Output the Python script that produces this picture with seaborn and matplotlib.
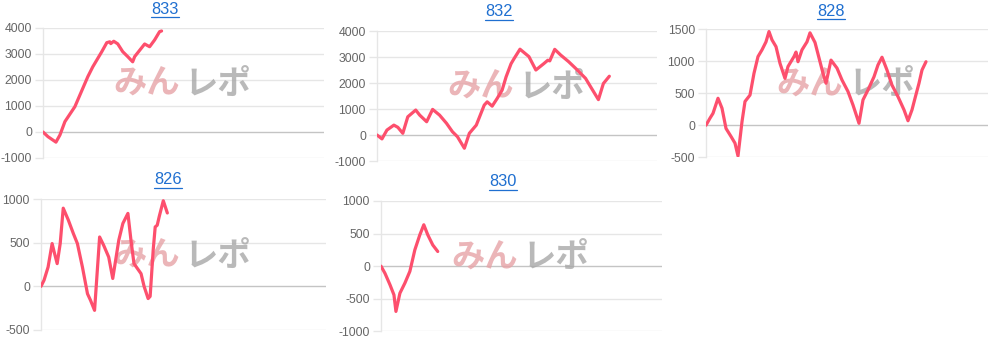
import matplotlib
matplotlib.use("Agg")
import matplotlib.pyplot as plt
import seaborn as sns
import pandas as pd
from matplotlib.lines import Line2D

# ---------------- data (x = position along the game axis, y = 差枚) -------------
titles = ["833", "832", "828", "826", "830"]

x_833 = [0, 5, 13, 17, 22, 32, 45, 50, 59, 64, 67, 68, 71, 75, 80, 85, 90, 92, 102, 107, 112, 117, 119]
y_833 = [0, -180, -390, -115, 400, 975, 2130, 2510, 3090, 3435, 3470, 3400, 3490, 3390, 3090, 2900, 2700,
         2900, 3385, 3280, 3540, 3860, 3885]

x_832 = [0, 5, 10, 17, 21, 26, 31, 39, 43, 50, 56, 63, 70, 76, 81, 88, 93, 100, 108, 111, 116, 121, 126,
         130, 135, 138, 144, 153, 160, 168, 172, 174, 179, 185, 193, 200, 210, 216, 223, 228, 234]
y_832 = [0, -150, 190, 380, 295, 65, 700, 960, 765, 510, 985, 765, 450, 125, -65, -510, 65, 380, 1150,
         1275, 1110, 1405, 1725, 2235, 2740, 2935, 3300, 3015, 2500, 2745, 2875, 2850, 3295, 3075, 2820,
         2565, 2180, 1800, 1360, 1980, 2260]

x_828 = [0, 4, 7, 12, 16, 20, 25, 29, 32, 36, 39, 44, 48, 52, 56, 60, 63, 66, 70, 74, 79, 82, 88, 90, 92,
         96, 101, 104, 109, 114, 117, 120, 125, 131, 136, 142, 147, 153, 157, 162, 168, 172, 176, 181, 186,
         192, 198, 202, 206, 209, 213, 216, 220]
y_828 = [0, 110, 185, 420, 265, -50, -175, -280, -480, 55, 370, 470, 810, 1070, 1175, 1300, 1460, 1330,
         1225, 965, 730, 915, 1070, 1140, 990, 1175, 1300, 1440, 1290, 990, 810, 655, 1015, 890, 705, 525,
         315, 30, 395, 550, 755, 940, 1060, 860, 625, 445, 240, 70, 240, 420, 655, 860, 990]

x_826 = [0, 3, 7, 11, 13, 16, 19, 22, 27, 32, 36, 41, 46, 49, 53, 58, 62, 67, 71, 77, 81, 86, 89, 92, 99,
         102, 106, 108, 111, 113, 115, 117, 121, 125]
y_826 = [0, 70, 220, 490, 395, 260, 490, 895, 760, 605, 490, 220, -85, -160, -275, 565, 470, 335, 90, 530,
         720, 835, 530, 260, 145, 0, -140, -115, 415, 680, 700, 800, 980, 840]

x_830 = [0, 4, 9, 13, 15, 19, 24, 29, 34, 39, 43, 47, 52, 57]
y_830 = [0, -110, -285, -440, -695, -415, -260, -80, 250, 480, 635, 480, 325, 225]

ticks_833 = [-1000, 0, 1000, 2000, 3000, 4000]
ticks_832 = [-1000, 0, 1000, 2000, 3000, 4000]
ticks_828 = [-500, 0, 500, 1000, 1500]
ticks_826 = [-500, 0, 500, 1000]
ticks_830 = [-1000, -500, 0, 500, 1000]

X_MAX = 282

# ---------------- style ----------------
sns.set_theme(style="white")
plt.rcParams["font.family"] = ["Liberation Sans", "DejaVu Sans"]

W, H = 998, 341
fig = plt.figure(figsize=(W / 100, H / 100), dpi=100)

# axes boxes in pixels: left, top, right, bottom
boxes = [
    (43, 28, 324, 158),
    (377, 31, 657, 161),
    (706, 29, 988, 157.3),
    (41, 199, 326, 330),
    (381, 201, 661.7, 331.3),
]
title_pos = [(165, 9), (499, 12), (831, 11), (168, 180), (503, 182)]

series = [(x_833, y_833, ticks_833), (x_832, y_832, ticks_832), (x_828, y_828, ticks_828),
          (x_826, y_826, ticks_826), (x_830, y_830, ticks_830)]

LINE = "#fd4f6d"
GRID = "#e6e6e6"
ZERO = "#c4c4c4"
LABEL = "#666666"
TITLE = "#1f6fd0"

title_texts = []
for (l, t, r, b), (xs, ys, ticks), title, tp in zip(boxes, series, titles, title_pos):
    ax = fig.add_axes([l / W, 1 - b / H, (r - l) / W, (b - t) / H])
    ax.set_facecolor("white")
    ax.set_xlim(0, X_MAX)
    ax.set_ylim(ticks[0], ticks[-1])
    ax.set_yticks(ticks)
    ax.set_yticklabels([str(v) for v in ticks])
    ax.set_xticks([])
    for s in ax.spines.values():
        s.set_visible(False)
    ax.spines["left"].set_visible(True)
    ax.spines["left"].set_color(GRID)
    ax.spines["left"].set_linewidth(1)
    ax.tick_params(axis="y", length=6, width=1, color=GRID, pad=2, labelsize=8.8, labelcolor=LABEL,
                   direction="out", left=True)
    for v in ticks:
        ax.axhline(v, color=ZERO if v == 0 else GRID, lw=1, zorder=1)

    # watermark
    ax.text(0.488, 0.565, "みん", transform=ax.transAxes, ha="right", va="center",
            fontsize=24, fontweight="bold", color="#e6a3a7", alpha=0.8,
            family=["Noto Sans CJK JP", "DejaVu Sans"], zorder=2)
    ax.text(0.505, 0.565, "レポ", transform=ax.transAxes, ha="left", va="center",
            fontsize=24, fontweight="bold", color="#a8a8a8", alpha=0.8,
            family=["Noto Sans CJK JP", "DejaVu Sans"], zorder=2)

    df = pd.DataFrame({"x": xs, "y": ys})
    sns.lineplot(data=df, x="x", y="y", ax=ax, color=LINE, lw=2.3, zorder=5, sort=False)
    ax.set_xlabel("")
    ax.set_ylabel("")

    tt = fig.text(tp[0] / W, 1 - tp[1] / H, title, ha="center", va="center", color=TITLE, fontsize=11.8)
    title_texts.append(tt)

# underline the titles (they are links)
fig.canvas.draw()
rend = fig.canvas.get_renderer()
for tt in title_texts:
    bb = tt.get_window_extent(rend)
    y = (bb.y0 - 0.5) / H
    fig.add_artist(Line2D([bb.x0 / W, bb.x1 / W], [y, y], color=TITLE, lw=0.9,
                          transform=fig.transFigure))

fig.savefig("out.png", dpi=100, facecolor="white")
